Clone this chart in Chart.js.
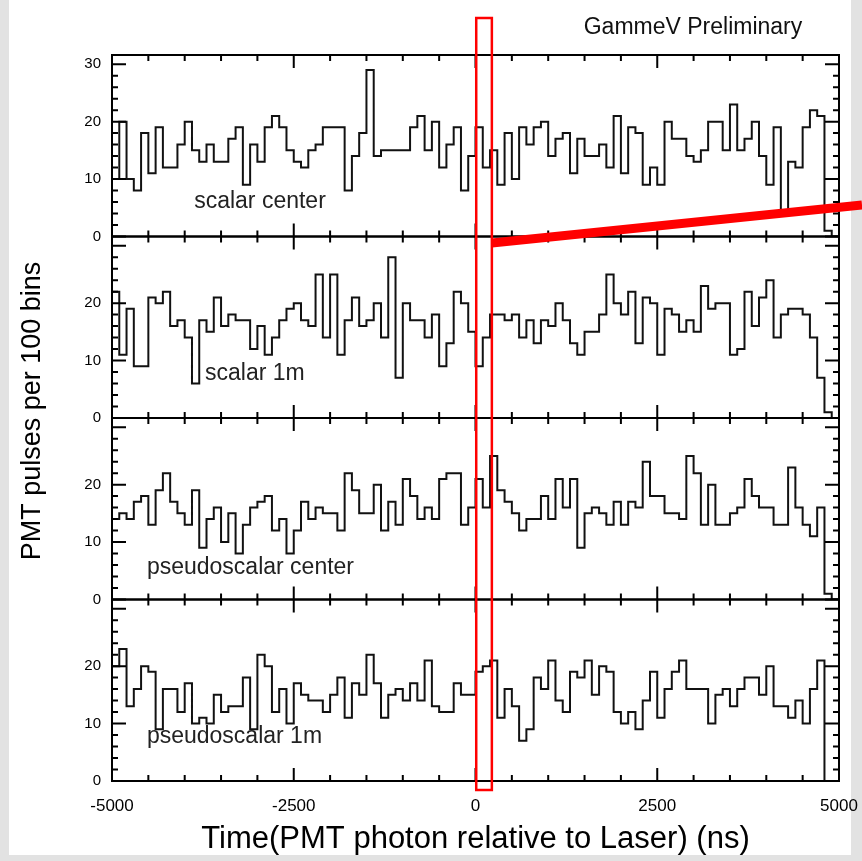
<!DOCTYPE html>
<html>
<head>
<meta charset="utf-8">
<title>GammeV PMT pulses</title>
<script src="https://cdn.jsdelivr.net/npm/chart.js@4.4.1/dist/chart.umd.min.js"></script>
<style>
	html, body { margin: 0; padding: 0; background: #e4e4e4; }
	canvas { display: block; }
</style>
</head>
<body>
<canvas id="pmtChart" width="862" height="861"></canvas>
<script>
/* 100 ns bins from -5000 to 5000 ns (edges) */
const binEdges = [];
for (let t = -5000; t <= 5000; t += 100) binEdges.push(t);

const xTicks = [-5000, -2500, 0, 2500, 5000];
const yTicks = [0, 10, 20, 30];
const yMax = 31.6;

const panelNames = ["scalar center", "scalar 1m", "pseudoscalar center", "pseudoscalar 1m"];

/* PMT pulses per 100 ns bin */
const scalarCenter = [
	10, 20, 10, 8, 18, 11, 19, 12, 12, 16,
	20, 15, 13, 16, 13, 13, 17, 19, 9, 16,
	13, 19, 21, 19, 15, 13, 12, 15, 16, 19,
	19, 19, 8, 14, 18, 29, 14, 15, 15, 15,
	15, 19, 21, 15, 20, 12, 16, 19, 8, 14,
	19, 12, 15, 9, 18, 10, 19, 16, 19, 20,
	14, 17, 18, 11, 17, 14, 14, 16, 12, 21,
	11, 19, 18, 9, 12, 9, 20, 17, 17, 14,
	13, 15, 20, 20, 15, 23, 15, 17, 20, 14,
	9, 19, 4, 13, 12, 19, 22, 21, 1, 0
];
const scalar1m = [
	22, 11, 19, 9, 9, 21, 20, 22, 16, 17,
	14, 6, 17, 15, 21, 16, 18, 17, 17, 12,
	16, 11, 14, 17, 19, 20, 17, 16, 25, 14,
	25, 11, 17, 21, 16, 17, 20, 14, 28, 7,
	20, 17, 17, 14, 18, 9, 13, 22, 20, 15,
	9, 14, 18, 18, 17, 18, 14, 17, 13, 17,
	16, 20, 17, 13, 11, 15, 15, 18, 25, 20,
	18, 22, 13, 21, 20, 11, 19, 18, 15, 17,
	15, 23, 19, 20, 20, 11, 12, 22, 16, 21,
	24, 14, 18, 19, 19, 18, 14, 7, 1, 0
];
const pseudoCenter = [
	14, 15, 14, 17, 18, 13, 19, 22, 17, 15,
	13, 19, 9, 14, 16, 10, 15, 8, 13, 16,
	17, 18, 12, 14, 8, 12, 17, 14, 16, 15,
	15, 12, 22, 19, 15, 15, 20, 12, 17, 13,
	21, 18, 14, 16, 14, 21, 22, 22, 13, 16,
	21, 16, 25, 19, 17, 15, 12, 14, 14, 18,
	14, 21, 16, 21, 9, 15, 16, 15, 13, 17,
	13, 17, 16, 24, 18, 18, 15, 15, 14, 25,
	22, 13, 20, 13, 13, 15, 16, 21, 18, 16,
	16, 13, 13, 23, 16, 13, 11, 16, 1, 0
];
const pseudo1m = [
	20, 23, 13, 16, 20, 19, 9, 16, 16, 12,
	17, 10, 11, 10, 15, 12, 13, 13, 18, 9,
	22, 20, 12, 16, 10, 17, 15, 14, 14, 12,
	15, 18, 11, 17, 15, 22, 17, 11, 15, 16,
	14, 17, 14, 21, 13, 12, 12, 17, 15, 15,
	19, 20, 21, 11, 16, 13, 7, 9, 18, 16,
	21, 14, 12, 19, 18, 21, 15, 20, 19, 12,
	10, 12, 9, 14, 19, 11, 16, 19, 21, 16,
	16, 16, 10, 15, 16, 13, 16, 18, 18, 15,
	20, 13, 13, 11, 14, 10, 16, 21, 0, 0
];

const panelCounts = [scalarCenter, scalar1m, pseudoCenter, pseudo1m];
const panelIds = ["y1", "y2", "y3", "y4"];
/* label anchor in data units (ns, counts) */
const labelAt = [[-3870, 6.1], [-3720, 7.7], [-4520, 5.5], [-4520, 7.7]];

const FONT = "'Liberation Sans', Arial, sans-serif";

function toSteps(counts) {
	return binEdges.map((t, i) => ({ x: t, y: counts[Math.min(i, counts.length - 1)] }));
}

const paper = {
	id: "paper",
	beforeDraw(chart) {
		const ctx = chart.ctx;
		ctx.save();
		ctx.fillStyle = "#e2e2e2";
		ctx.fillRect(0, 0, chart.width, chart.height);
		ctx.fillStyle = "#ffffff";
		ctx.fillRect(9, 0, 842, 855);
		ctx.restore();
	}
};

const frames = {
	id: "frames",
	afterDatasetsDraw(chart) {
		const ctx = chart.ctx;
		const x = chart.scales.x;
		const area = chart.chartArea;
		ctx.save();
		ctx.strokeStyle = "#000";
		ctx.lineWidth = 2;
		panelIds.forEach((id, k) => {
			const y = chart.scales[id];
			ctx.strokeRect(area.left, y.top, area.right - area.left, y.bottom - y.top);
			ctx.beginPath();
			for (let t = -5000; t <= 5000; t += 500) {
				const px = x.getPixelForValue(t);
				const len = t % 2500 === 0 ? 13 : 6;
				ctx.moveTo(px, y.bottom);
				ctx.lineTo(px, y.bottom - len);
				ctx.moveTo(px, y.top);
				ctx.lineTo(px, y.top + len);
			}
			for (let v = 0; v <= 30; v += 2) {
				const py = y.getPixelForValue(v);
				const len = v % 10 === 0 ? 14 : 6;
				ctx.moveTo(area.left, py);
				ctx.lineTo(area.left + len, py);
				ctx.moveTo(area.right, py);
				ctx.lineTo(area.right - len, py);
			}
			ctx.stroke();
			/*panel name*/
			ctx.fillStyle = "#222";
			ctx.font = "23px " + FONT;
			ctx.textBaseline = "middle";
			ctx.textAlign = "left";
			ctx.fillText(panelNames[k], x.getPixelForValue(labelAt[k][0]), y.getPixelForValue(labelAt[k][1]));
		});
		ctx.restore();
	}
};

const notes = {
	id: "notes",
	afterDraw(chart) {
		const ctx = chart.ctx;
		const x = chart.scales.x;
		const area = chart.chartArea;
		ctx.save();
		/*y axis title*/
		ctx.fillStyle = "#000";
		ctx.font = "27px " + FONT;
		ctx.textAlign = "center";
		ctx.textBaseline = "middle";
		ctx.translate(33, 411);
		ctx.rotate(-Math.PI / 2);
		ctx.fillText("PMT pulses per 100 bins", 0, 0);
		ctx.restore();

		ctx.save();
		ctx.fillStyle = "#111";
		ctx.font = "23px " + FONT;
		ctx.textAlign = "center";
		ctx.textBaseline = "middle";
		ctx.fillText("GammeV Preliminary", 693, 28);

		/*red box around t = 0 and the pointer line*/
		const x0 = x.getPixelForValue(10);
		const x1 = x.getPixelForValue(225);
		ctx.strokeStyle = "#ff0000";
		ctx.lineWidth = 2.5;
		ctx.strokeRect(x0, area.top - 37, x1 - x0, area.bottom - area.top + 46);
		ctx.lineWidth = 9;
		ctx.lineCap = "butt";
		ctx.beginPath();
		ctx.moveTo(x1, 243);
		ctx.lineTo(862, 205);
		ctx.stroke();
		ctx.restore();
	}
};

function yAxis(k) {
	return {
		type: "linear",
		position: "left",
		stack: "panels",
		stackWeight: 1,
		min: 0,
		max: yMax,
		grid: { display: false, drawTicks: false },
		border: { display: false },
		afterBuildTicks: scale => {
			scale.ticks = yTicks.map(v => ({ value: v }));
		},
		afterFit: scale => {
			scale.width = 112;
			scale.paddingTop = 0;
			scale.paddingBottom = 0;
		},
		ticks: {
			autoSkip: false,
			padding: 11,
			color: "#000",
			font: { family: FONT, size: 15 },
			callback: v => (k > 0 && v === 30 ? "" : String(v))
		}
	};
}

/*stacked axes on the left are placed last-defined on top, so list bottom panel first*/
const scales = {
	x: {
		type: "linear",
		position: "bottom",
		min: -5000,
		max: 5000,
		grid: { display: false, drawTicks: false },
		border: { display: false },
		afterBuildTicks: scale => {
			scale.ticks = xTicks.map(v => ({ value: v }));
		},
		afterFit: scale => {
			scale.height = 80;
			scale.paddingLeft = 0;
			scale.paddingRight = 0;
		},
		ticks: {
			autoSkip: false,
			maxRotation: 0,
			padding: 15,
			color: "#000",
			font: { family: FONT, size: 17 },
			callback: v => String(v)
		},
		title: {
			display: true,
			text: "Time(PMT photon relative to Laser) (ns)",
			color: "#000",
			font: { family: FONT, size: 31 },
			padding: { top: 3, bottom: 3 }
		}
	},
	y4: yAxis(3),
	y3: yAxis(2),
	y2: yAxis(1),
	y1: yAxis(0)
};

const datasets = panelCounts.map((counts, k) => ({
	label: panelNames[k],
	data: toSteps(counts),
	yAxisID: panelIds[k],
	stepped: "before",
	borderColor: "#111",
	borderWidth: 2,
	pointRadius: 0,
	fill: false
}));

new Chart(document.getElementById("pmtChart"), {
	type: "line",
	data: { datasets: datasets },
	options: {
		responsive: false,
		devicePixelRatio: 1,
		animation: false,
		layout: { padding: { top: 55, right: 23, left: 0, bottom: 0 } },
		plugins: {
			legend: { display: false },
			tooltip: { enabled: false }
		},
		scales: scales
	},
	plugins: [paper, frames, notes]
});
</script>
</body>
</html>
